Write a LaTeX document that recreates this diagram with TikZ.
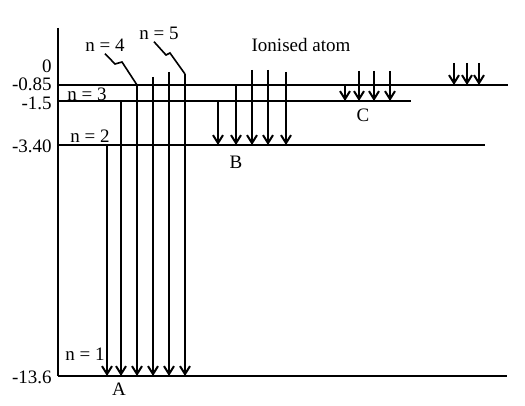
\documentclass[tikz,border=0pt]{standalone}
\usepackage{fontspec}
\setmainfont{Liberation Serif}
\usetikzlibrary{arrows.meta}
\tikzset{
	level/.style={line width=1pt},
	trans/.style={line width=1pt,-{Straight Barb[length=4pt,width=5pt]}},
	lab/.style={inner sep=1pt,font=\fontsize{9.5}{11}\selectfont},
}
\begin{document}
\begin{tikzpicture}[x=0.5pt,y=-0.5pt]
	\useasboundingbox (0,0) rectangle (525,406);
	\coordinate (top) at (58,28);
	\coordinate (o) at (58,376);
	\draw[level] (top) -- (o);
	% levels n=1,2,3 and the ionised one
	\foreach \n/\y/\e in {1/376/507,2/145/485,3/101/411,4/85/508}
	{\coordinate (l\n) at (58,\y); \coordinate (r\n) at (\e,\y);
		\draw[level] (l\n) -- (r\n);}
	\foreach \v/\y [count=\i] in {0/66,-0.85/84,-1.5/103,-3.40/146,-13.6/377}
	\node[lab,anchor=east] (e\i) at (54,\y) {\v};
	\node[lab,anchor=west] (n1) at (63,354) {n = 1};
	\node[lab,anchor=west] (n2) at (68,136) {n = 2};
	\node[lab,anchor=west] (n3) at (65,94) {n = 3};
	\node[lab] (n4) at (105,45) {n = 4};
	\node[lab] (n5) at (159,33) {n = 5};
	\node[lab] (ion) at (301,45) {Ionised atom};
	% series
	\foreach \x/\y [count=\i] in {107/145,121/101,137/85,153/77,169/72,185/74}
	\draw[trans] (\x,\y) coordinate (a\i) -- (a\i |- l1);
	\foreach \x/\y [count=\i] in {218/101,236/85,252/70,268/70,286/72}
	\draw[trans] (\x,\y) coordinate (b\i) -- (b\i |- l2);
	\foreach \x/\y [count=\i] in {345/85,359/71,374/71,390/71}
	\draw[trans] (\x,\y) coordinate (c\i) -- (c\i |- l3);
	\foreach \x/\y [count=\i] in {454/63,467/63,479/63}
	\draw[trans] (\x,\y) coordinate (d\i) -- (d\i |- l4);
	\node[lab] (A) at (119,389) {A};
	\node[lab] (B) at (236,162) {B};
	\node[lab] (C) at (363,115) {C};
	% leaders
	\draw[line width=0.8pt] (n4.south) -- (115,64) -- (122,62) -- (a3);
	\draw[line width=0.8pt] ([xshift=-2.5pt]n5.south) -- (166,55) -- (170,53) -- (a6);
\end{tikzpicture}
\end{document}
